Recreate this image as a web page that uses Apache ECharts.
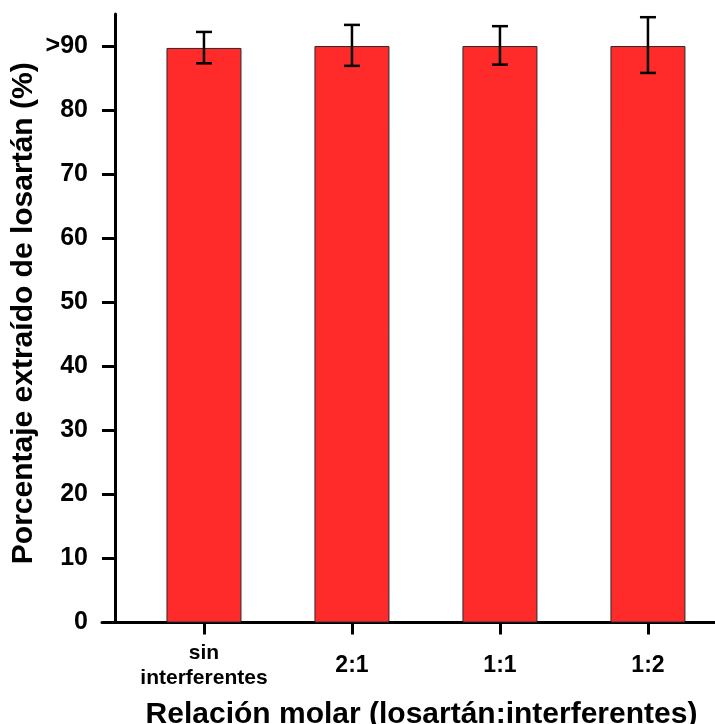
<!DOCTYPE html>
<html>
<head>
<meta charset="utf-8">
<script src="https://cdn.jsdelivr.net/npm/echarts@6/dist/echarts.min.js"></script>
<style>
  html, body { margin: 0; padding: 0; background: #fff; }
  #chart { width: 715px; height: 724px; }
</style>
</head>
<body>
<div id="chart"></div>
<script>
// Extraction percentage of losartan at several molar ratios
const categories = ['sin\ninterferentes', '2:1', '1:1', '1:2'];
const meanValues = [89.7, 90.0, 90.0, 90.0];
const errLow = [87.3, 86.9, 87.1, 85.8];
const errHigh = [92.2, 93.3, 93.1, 94.5];
const yTicks = [0, 10, 20, 30, 40, 50, 60, 70, 80, 90];
const yTickLabels = ['0', '10', '20', '30', '40', '50', '60', '70', '80', '>90'];

const positions = categories.map((_, i) => i);
const barData = meanValues.map((v, i) => [i, v]);
const errData = positions.map((i) => [i, errLow[i], errHigh[i]]);

const FONT = '"Liberation Sans", Arial, sans-serif';
const chart = echarts.init(document.getElementById('chart'), null, { renderer: 'canvas' });

chart.setOption({
  animation: false,
  backgroundColor: '#ffffff',
  grid: { left: 102, right: 0, top: 14, bottom: 101.5, outerBoundsMode: 'none' },
  xAxis: {
    type: 'value',
    min: -0.689,
    max: 3.453,
    splitLine: { show: false },
    axisLine: { onZero: false, lineStyle: { color: '#000', width: 3 } },
    axisTick: { show: true, customValues: positions, length: 12, lineStyle: { color: '#000', width: 3 } },
    axisLabel: {
      customValues: positions,
      formatter: (v) => {
        const label = categories[Math.round(v)];
        // two-line label uses the smaller style
        return label.indexOf('\n') >= 0 ? '{s|' + label.split('\n').join('}\n{s|') + '}' : '{b|' + label + '}';
      },
      rich: {
        s: { fontFamily: FONT, fontWeight: 'bold', fontSize: 21, lineHeight: 25, color: '#000' },
        b: { fontFamily: FONT, fontWeight: 'bold', fontSize: 23, lineHeight: 25, color: '#000' }
      },
      fontFamily: FONT, fontWeight: 'bold', fontSize: 21, lineHeight: 25,
      color: '#000', verticalAlign: 'middle', margin: 43
    },
    name: 'Relación molar (losartán:interferentes)',
    nameLocation: 'middle',
    nameGap: 77,
    nameMoveOverlap: false,
    nameTextStyle: { fontFamily: FONT, fontWeight: 'bold', fontSize: 30, color: '#000', padding: [0, 0, 0, 26] }
  },
  yAxis: {
    type: 'value',
    min: 0,
    max: 95,
    offset: -13,
    splitLine: { show: false },
    axisLine: { show: true, onZero: false, lineStyle: { color: '#000', width: 3 } },
    axisTick: { show: true, customValues: yTicks, length: 13, lineStyle: { color: '#000', width: 3 } },
    axisLabel: {
      customValues: yTicks,
      formatter: (v) => yTickLabels[yTicks.indexOf(Math.round(v))],
      fontFamily: FONT, fontWeight: 'bold', fontSize: 25, color: '#000', margin: 27
    },
    name: 'Porcentaje extraído de losartán (%)',
    nameLocation: 'middle',
    nameGap: 76,
    nameMoveOverlap: false,
    nameTextStyle: { fontFamily: FONT, fontWeight: 'bold', fontSize: 30, color: '#000', padding: [0, 0, 0, 10] }
  },
  series: [
    {
      type: 'bar',
      data: barData,
      barWidth: 75,
      itemStyle: { color: '#ff2a2a', borderColor: '#2a2a2a', borderWidth: 1 }
    },
    {
      type: 'custom',
      data: errData,
      z: 10,
      renderItem: (params, api) => {
        const x = api.value(0);
        const lo = api.coord([x, api.value(1)]);
        const hi = api.coord([x, api.value(2)]);
        const half = 8;
        const style = { stroke: '#000', lineWidth: 2.5 };
        return {
          type: 'group',
          children: [
            { type: 'line', shape: { x1: hi[0], y1: hi[1], x2: lo[0], y2: lo[1] }, style },
            { type: 'line', shape: { x1: hi[0] - half, y1: hi[1], x2: hi[0] + half, y2: hi[1] }, style },
            { type: 'line', shape: { x1: lo[0] - half, y1: lo[1], x2: lo[0] + half, y2: lo[1] }, style }
          ]
        };
      }
    }
  ]
});
</script>
</body>
</html>
